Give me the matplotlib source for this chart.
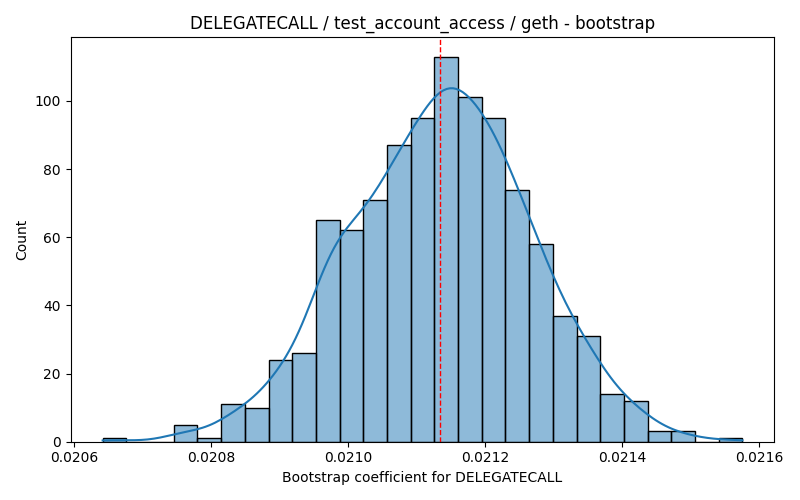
import matplotlib
matplotlib.use('Agg')
import matplotlib.pyplot as plt
import numpy as np

# histogram (27 bins, 1000 bootstrap samples)
bin_start = 0.0206416
bin_end = 0.0215759
counts = [1, 0, 0, 5, 1, 11, 10, 24, 26, 65, 62, 71, 87, 95, 113,
          101, 95, 74, 58, 37, 31, 14, 12, 3, 3, 0, 1]
mean_coef = 0.021134

edges = np.linspace(bin_start, bin_end, len(counts) + 1)
width = edges[1] - edges[0]
centers = (edges[:-1] + edges[1:]) / 2

# kde like seaborn (scott bandwidth, clipped to data range)
samples = np.repeat(centers, counts)
n = len(samples)
bw = samples.std(ddof=1) * n ** (-1 / 5)
xs = np.linspace(edges[0], edges[-1], 200)
dens = np.exp(-0.5 * ((xs[:, None] - samples[None, :]) / bw) ** 2).sum(axis=1)
dens = dens / (n * bw * np.sqrt(2 * np.pi))
kde_counts = dens * n * width

fig, ax = plt.subplots(figsize=(8, 5), dpi=100)
ax.bar(edges[:-1], counts, width=width, align='edge',
       facecolor=(0.122, 0.467, 0.706, 0.5), edgecolor='black', linewidth=1)
ax.plot(xs, kde_counts, color='#1f77b4', linewidth=1.5)
ax.axvline(mean_coef, color='red', linestyle='--', linewidth=1)

ax.set_xlim(edges[0] - 0.05 * (edges[-1] - edges[0]),
            edges[-1] + 0.05 * (edges[-1] - edges[0]))
ax.set_ylim(0, max(counts) * 1.05)
ax.set_title('DELEGATECALL / test_account_access / geth - bootstrap')
ax.set_xlabel('Bootstrap coefficient for DELEGATECALL')
ax.set_ylabel('Count')

fig.tight_layout()
fig.savefig('out.png')
